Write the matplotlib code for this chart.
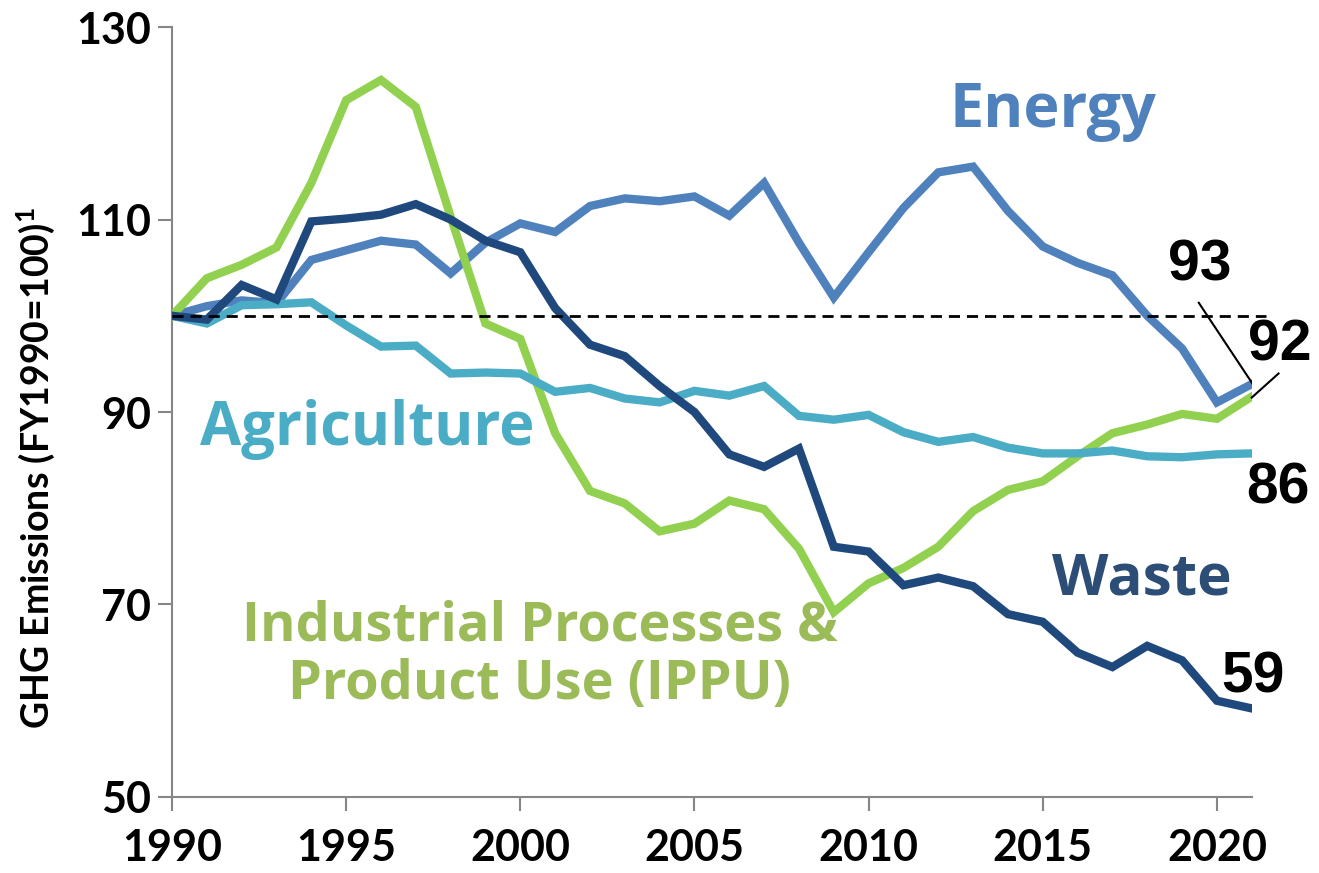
import matplotlib.pyplot as plt

# Données (indice, FY1990 = 100)
years = list(range(1990, 2022))
energy = [100, 101.0, 101.6, 101.3, 105.8, 106.8, 107.8, 107.4, 104.4, 107.6,
          109.6, 108.7, 111.4, 112.2, 111.9, 112.4, 110.4, 113.8, 107.6, 101.9,
          106.6, 111.2, 114.9, 115.5, 110.9, 107.2, 105.5, 104.2, 100.0, 96.6,
          91.0, 92.9]
agriculture = [100, 99.2, 101.1, 101.2, 101.4, 99.0, 96.8, 96.9, 94.0, 94.1,
               94.0, 92.1, 92.5, 91.4, 91.0, 92.2, 91.7, 92.7, 89.6, 89.2,
               89.7, 87.9, 86.9, 87.4, 86.3, 85.7, 85.7, 86.0, 85.4, 85.3,
               85.6, 85.7]
ippu = [100, 103.9, 105.3, 107.1, 113.8, 122.4, 124.5, 121.7, 110.3, 99.2,
        97.6, 87.8, 81.8, 80.5, 77.6, 78.4, 80.8, 79.9, 75.8, 69.2,
        72.2, 73.8, 76.0, 79.7, 81.9, 82.8, 85.4, 87.8, 88.7, 89.8,
        89.3, 91.6]
waste = [100, 99.6, 103.2, 101.7, 109.8, 110.1, 110.5, 111.6, 110.0, 107.8,
         106.6, 100.8, 97.0, 95.8, 92.7, 90.0, 85.6, 84.3, 86.2, 76.0,
         75.5, 72.0, 72.8, 71.9, 69.0, 68.2, 65.0, 63.5, 65.7, 64.2,
         60.0, 59.2]
xticks = [1990, 1995, 2000, 2005, 2010, 2015, 2020]
yticks = [50, 70, 90, 110, 130]

c_energy = "#4F81BD"
c_agri = "#4BACC6"
c_ippu = "#92D050"
c_waste = "#1F497D"

# exposant en Lato gras
plt.rcParams["mathtext.fontset"] = "custom"
plt.rcParams["mathtext.rm"] = "Lato:bold"
plt.rcParams["mathtext.it"] = "Lato:bold"
plt.rcParams["mathtext.bf"] = "Lato:bold"

fig = plt.figure(figsize=(13.19, 8.73), dpi=100)
ax = fig.add_axes([0.1304, 0.0871, 0.8186, 0.8819])

lw = 6
ax.plot(years, energy, color=c_energy, lw=lw, zorder=2, solid_joinstyle="miter")
ax.plot(years, ippu, color=c_ippu, lw=lw, zorder=3, solid_joinstyle="miter")
ax.plot(years, agriculture, color=c_agri, lw=lw, zorder=4, solid_joinstyle="miter")
ax.plot(years, waste, color=c_waste, lw=lw, zorder=5, solid_joinstyle="miter")

# ligne de référence 100
ax.plot([1990, 2021.4], [100, 100], color="black", lw=2, ls=(0, (4, 2.5)),
        zorder=6, clip_on=False)

ax.set_xlim(1990, 2021)
ax.set_ylim(50, 130)
ax.set_xticks(xticks)
ax.set_yticks(yticks)

tick_font = dict(family="Lato", weight="bold", size=31)
ax.set_xticklabels([str(t) for t in xticks], fontdict=tick_font)
ax.set_yticklabels([str(t) for t in yticks], fontdict=tick_font)
ax.tick_params(direction="out", length=10, width=1.5, color="#868686", pad=5)
ax.tick_params(axis="x", pad=12)

for s in ["top", "right"]:
    ax.spines[s].set_visible(False)
for s in ["left", "bottom"]:
    ax.spines[s].set_color("#868686")
    ax.spines[s].set_linewidth(1.5)

fig.text(36 / 1319, 1 - 468 / 873, r"GHG Emissions (FY1990=100)$^{1}$",
         family="Lato", weight="bold", size=27, rotation=90,
         ha="center", va="center")

# étiquettes des séries
lab = dict(family="Open Sans", weight="bold", ha="center", va="center")
ax.text(2015.29, 121.2, "Energy", color=c_energy, size=44, **lab)
ax.text(1995.6, 88.2, "Agriculture", color=c_agri, size=43, **lab)
ax.text(2000.55, 64.7, "Industrial Processes &\nProduct Use (IPPU)",
        color="#9BBB59", linespacing=1.12, size=39, **lab)
ax.text(2017.85, 72.6, "Waste", color="#2C4D75", size=42, **lab)

# valeurs finales
num = dict(family="Liberation Sans", weight="bold", size=41, ha="center",
           va="center", color="black")
ax.text(2019.5, 105.2, "93", **num)
ax.text(2021.8, 96.9, "92", clip_on=False, **num)
ax.text(2021.75, 82.1, "86", clip_on=False, **num)
ax.text(2021.05, 62.4, "59", clip_on=False, **num)
ax.plot([2019.48, 2021.03], [101.35, 92.9], color="black", lw=1.5, zorder=7)
ax.plot([2021.77, 2021], [94.0, 91.5], color="black", lw=1.5, zorder=7,
        clip_on=False)

fig.savefig("out.png", dpi=100)
